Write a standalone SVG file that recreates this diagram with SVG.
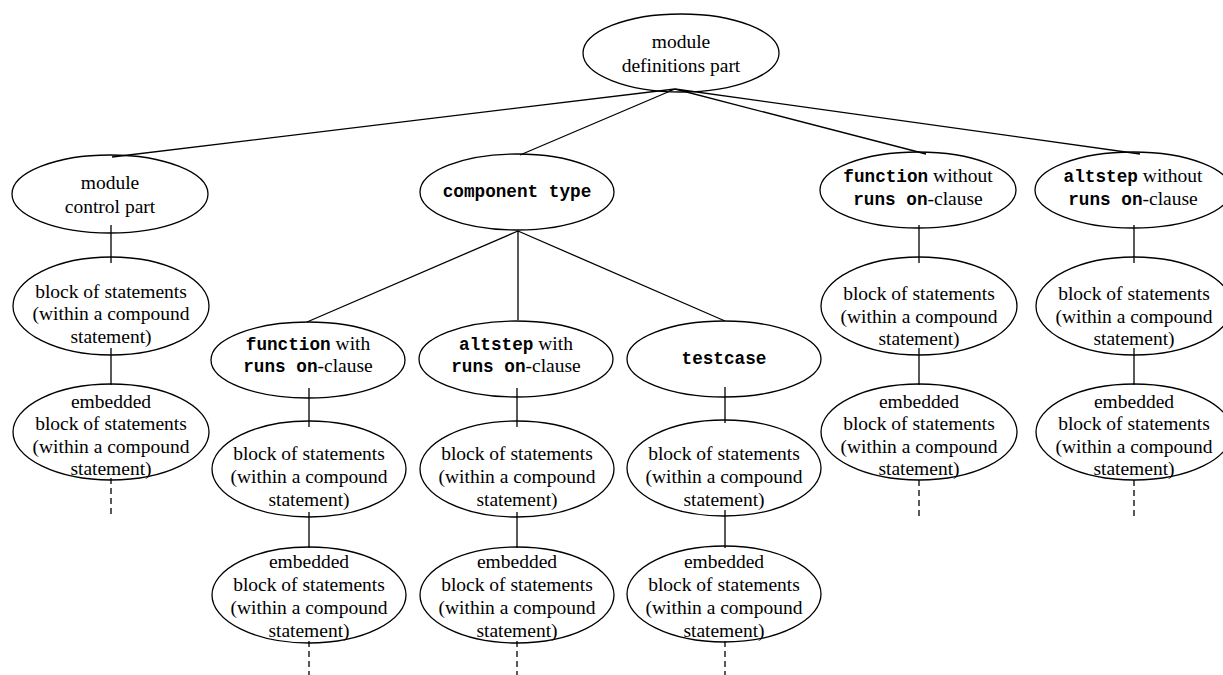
<svg xmlns="http://www.w3.org/2000/svg" width="1223" height="675" viewBox="0 0 1223 675">
<style>
.n{fill:#fff;stroke:#000;stroke-width:1.3}
.t{font-family:"Liberation Serif","Times New Roman",serif;font-size:19.5px;fill:#000;text-anchor:middle}
.m{font-family:"Liberation Mono","Courier New",monospace;font-weight:bold;font-size:17.7px}
.c{stroke:#000;stroke-width:1.3;fill:none}
.d{stroke:#000;stroke-width:1.3;fill:none;stroke-dasharray:6 4}
</style>
<rect width="1223" height="675" fill="#fff"/>
<g id="nodes-back">
<g id="top"><ellipse class="n" cx="681" cy="53" rx="98" ry="39"/>
<text class="t" x="681" y="48">module</text><text class="t" x="681" y="72">definitions part</text></g>
<g id="control"><ellipse class="n" cx="110" cy="194" rx="98" ry="39"/>
<text class="t" x="110" y="189">module</text><text class="t" x="110" y="213">control part</text></g>
<g id="ctype"><ellipse class="n" cx="517" cy="192" rx="97" ry="38"/>
<text class="t" x="517" y="197"><tspan class="m">component type</tspan></text></g>
<g id="fwo"><ellipse class="n" cx="918" cy="190" rx="98" ry="38"/>
<text class="t" x="918" y="182"><tspan class="m">function</tspan> without</text>
<text class="t" x="918" y="205"><tspan class="m">runs on</tspan>-clause</text></g>
<g id="awo"><ellipse class="n" cx="1133" cy="190" rx="98" ry="38"/>
<text class="t" x="1133" y="182"><tspan class="m">altstep</tspan> without</text>
<text class="t" x="1133" y="205"><tspan class="m">runs on</tspan>-clause</text></g>
<g id="fw"><ellipse class="n" cx="308" cy="360" rx="97" ry="38"/>
<text class="t" x="308" y="350"><tspan class="m">function</tspan> with</text>
<text class="t" x="308" y="372"><tspan class="m">runs on</tspan>-clause</text></g>
<g id="aw"><ellipse class="n" cx="516" cy="359" rx="97" ry="38"/>
<text class="t" x="516" y="350"><tspan class="m">altstep</tspan> with</text>
<text class="t" x="516" y="372"><tspan class="m">runs on</tspan>-clause</text></g>
<g id="tc"><ellipse class="n" cx="724" cy="359" rx="97" ry="38"/>
<text class="t" x="724" y="364"><tspan class="m">testcase</tspan></text></g>
</g>
<g id="blocks">
<g id="b1"><ellipse class="n" cx="111" cy="306" rx="98" ry="49"/>
<text class="t" x="111" y="298">block of statements</text><text class="t" x="111" y="320">(within a compound</text><text class="t" x="111" y="343">statement)</text></g>
<g id="b2"><ellipse class="n" cx="309" cy="469" rx="97" ry="48"/>
<text class="t" x="309" y="460">block of statements</text><text class="t" x="309" y="483">(within a compound</text><text class="t" x="309" y="506">statement)</text></g>
<g id="b3"><ellipse class="n" cx="517" cy="469" rx="97" ry="48"/>
<text class="t" x="517" y="460">block of statements</text><text class="t" x="517" y="483">(within a compound</text><text class="t" x="517" y="506">statement)</text></g>
<g id="b4"><ellipse class="n" cx="724" cy="468" rx="97" ry="48"/>
<text class="t" x="724" y="460">block of statements</text><text class="t" x="724" y="483">(within a compound</text><text class="t" x="724" y="506">statement)</text></g>
<g id="b5"><ellipse class="n" cx="919" cy="306" rx="98" ry="49"/>
<text class="t" x="919" y="300">block of statements</text><text class="t" x="919" y="323">(within a compound</text><text class="t" x="919" y="345">statement)</text></g>
<g id="b6"><ellipse class="n" cx="1134" cy="306" rx="98" ry="49"/>
<text class="t" x="1134" y="300">block of statements</text><text class="t" x="1134" y="323">(within a compound</text><text class="t" x="1134" y="345">statement)</text></g>
</g>
<g id="embedded">
<g id="e1"><ellipse class="n" cx="111" cy="432" rx="98" ry="48"/>
<text class="t" x="111" y="408">embedded</text><text class="t" x="111" y="430">block of statements</text><text class="t" x="111" y="453">(within a compound</text><text class="t" x="111" y="475">statement)</text></g>
<g id="e2"><ellipse class="n" cx="309" cy="595" rx="97" ry="48"/>
<text class="t" x="309" y="568">embedded</text><text class="t" x="309" y="591">block of statements</text><text class="t" x="309" y="614">(within a compound</text><text class="t" x="309" y="637">statement)</text></g>
<g id="e3"><ellipse class="n" cx="517" cy="595" rx="97" ry="48"/>
<text class="t" x="517" y="568">embedded</text><text class="t" x="517" y="591">block of statements</text><text class="t" x="517" y="614">(within a compound</text><text class="t" x="517" y="637">statement)</text></g>
<g id="e4"><ellipse class="n" cx="724" cy="594" rx="97" ry="48"/>
<text class="t" x="724" y="568">embedded</text><text class="t" x="724" y="591">block of statements</text><text class="t" x="724" y="614">(within a compound</text><text class="t" x="724" y="637">statement)</text></g>
<g id="e5"><ellipse class="n" cx="919" cy="432" rx="98" ry="48"/>
<text class="t" x="919" y="408">embedded</text><text class="t" x="919" y="430">block of statements</text><text class="t" x="919" y="453">(within a compound</text><text class="t" x="919" y="475">statement)</text></g>
<g id="e6"><ellipse class="n" cx="1134" cy="432" rx="98" ry="48"/>
<text class="t" x="1134" y="408">embedded</text><text class="t" x="1134" y="430">block of statements</text><text class="t" x="1134" y="453">(within a compound</text><text class="t" x="1134" y="475">statement)</text></g>
</g>
<g id="connectors">
<path class="c" d="M675 89L112 157M675 89L520 155M675 89L926 154M675 89L1140 154"/>
<path class="c" d="M518 231L307 322M518 231L518 320M518 231L725 321"/>
<path class="c" d="M111 225V263M111 348V385M919 225V263M919 348V385M1134 225V263M1134 348V385"/>
<path class="c" d="M309 388V427M309 512V548M517 388V427M517 512V548M725 387V423M725 510V548"/>
<path class="d" d="M111 478V518M919 480V516M1134 480V516M309 641V675M517 641V675M725 641V675"/>
</g>
</svg>
